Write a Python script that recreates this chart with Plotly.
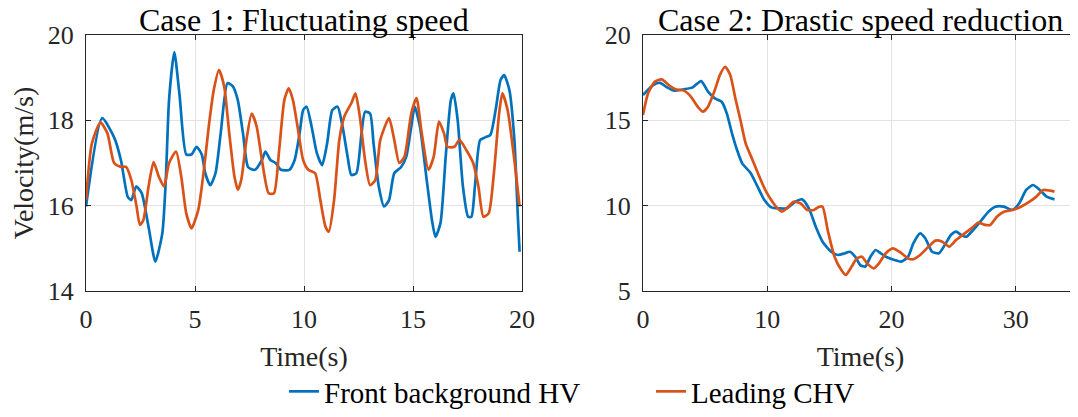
import plotly.graph_objects as go

# Case 1: fluctuating speed
t1_hv = [0, 0.74, 1.29, 1.6, 1.92, 2.08, 2.3, 2.55, 2.87, 3.18, 3.5, 3.66, 3.81, 4.05, 4.29, 4.6,
         4.84, 5.07, 5.31, 5.47, 5.7, 5.94, 6.18, 6.49, 6.73, 6.96, 7.2, 7.44, 7.75, 8.07, 8.23,
         8.46, 8.7, 8.94, 9.33, 9.57, 9.8, 9.96, 10.12, 10.35, 10.59, 10.83, 11.06, 11.3, 11.54,
         11.77, 12.0, 12.17, 12.4, 12.64, 12.8, 13.03, 13.19, 13.43, 13.67, 13.9, 14.14, 14.45,
         14.69, 14.92, 15.08, 15.32, 15.63, 15.87, 16.03, 16.26, 16.5, 16.74, 16.86, 17.05, 17.29,
         17.53, 17.68, 17.84, 18.08, 18.31, 18.55, 18.79, 19.02, 19.18, 19.42, 19.65, 19.81, 19.89]
v1_hv = [15.98, 18.05, 17.6, 17.07, 16.2, 16.13, 16.45, 16.3, 15.5, 14.69, 15.35, 16.6, 18.48,
         19.6, 18.6, 17.2, 17.2, 17.38, 17.2, 16.76, 16.48, 16.76, 17.7, 18.87, 18.8, 18.48, 17.7,
         16.9, 16.84, 17.07, 17.27, 17.07, 17.0, 16.84, 16.84, 17.07, 17.7, 18.24, 18.32, 17.85,
         17.23, 16.95, 17.46, 18.24, 18.32, 17.85, 17.15, 16.72, 16.76, 17.7, 18.2, 18.16, 17.46,
         16.45, 15.98, 16.13, 16.76, 16.9, 17.15, 17.85, 18.32, 17.85, 16.6, 15.66, 15.27, 15.59,
         17.15, 18.48, 18.63, 18.0, 16.45, 15.74, 15.74, 16.45, 17.54, 17.6, 17.66, 18.24, 18.95,
         19.06, 18.71, 17.54, 15.74, 14.92]
t1_chv = [0, 0.27, 0.66, 0.98, 1.29, 1.6, 1.84, 2.08, 2.32, 2.47, 2.63, 2.87, 3.1, 3.34, 3.58,
          3.81, 4.13, 4.37, 4.6, 4.84, 5.15, 5.39, 5.63, 5.86, 6.1, 6.34, 6.57, 6.81, 6.97, 7.12,
          7.36, 7.6, 7.83, 8.07, 8.38, 8.62, 8.86, 9.1, 9.3, 9.49, 9.73, 9.96, 10.2, 10.51, 10.75,
          10.99, 11.14, 11.38, 11.62, 11.85, 12.17, 12.36, 12.56, 12.8, 13.03, 13.27, 13.5, 13.9,
          14.14, 14.37, 14.61, 14.92, 15.16, 15.4, 15.71, 15.95, 16.19, 16.42, 16.58, 16.9, 17.13,
          17.45, 17.76, 18.0, 18.23, 18.47, 18.71, 18.95, 19.1, 19.34, 19.65, 19.89]
v1_chv = [16.13, 17.46, 17.95, 17.7, 17.0, 16.91, 16.91, 16.6, 15.98, 15.55, 15.66, 16.45, 17.02,
          16.68, 16.45, 17.0, 17.27, 16.68, 15.82, 15.47, 15.9, 16.76, 17.85, 18.71, 19.18, 18.79,
          17.7, 16.68, 16.37, 16.6, 17.54, 18.16, 17.85, 17.07, 16.29, 16.29, 17.3, 18.48, 18.75,
          18.48, 17.77, 17.07, 16.84, 16.76, 16.13, 15.5, 15.39, 16.13, 17.54, 18.09, 18.4, 18.63,
          18.09, 17.07, 16.48, 16.6, 17.54, 18.05, 17.54, 17.0, 17.15, 18.16, 18.52, 17.7, 16.84,
          17.15, 17.97, 17.7, 17.38, 17.38, 17.54, 17.3, 17.0, 16.45, 15.74, 15.82, 16.76, 18.16,
          18.63, 18.24, 17.07, 15.98]

# Case 2: drastic speed reduction
t2_hv = [0, 0.83, 1.38, 1.93, 2.48, 3.3, 4.0, 4.68, 5.23, 5.78, 6.33, 6.74, 7.16, 7.57, 7.98,
         8.67, 9.22, 9.77, 10.32, 11.0, 11.56, 12.25, 12.8, 13.35, 13.9, 14.45, 15.14, 15.69,
         16.24, 16.65, 17.07, 17.48, 17.89, 18.3, 18.72, 19.13, 19.54, 20.23, 20.78, 21.33, 21.75,
         22.3, 22.71, 23.26, 23.81, 24.36, 24.77, 25.19, 25.6, 26.01, 26.56, 27.25, 27.8, 28.35,
         29.04, 29.72, 30.27, 30.83, 31.38, 31.93, 32.48, 33.11]
v2_hv = [16.48, 17.07, 17.2, 16.93, 16.74, 16.82, 16.93, 17.3, 16.68, 16.29, 16.09, 15.41, 14.24,
         13.26, 12.48, 11.9, 11.11, 10.33, 9.9, 9.84, 9.84, 10.23, 10.37, 9.84, 8.77, 7.89, 7.3,
         7.11, 7.21, 7.3, 7.01, 6.52, 6.43, 7.01, 7.4, 7.21, 7.01, 6.82, 6.72, 7.01, 7.79, 8.38,
         8.09, 7.3, 7.21, 7.79, 8.28, 8.48, 8.28, 8.18, 8.57, 9.16, 9.65, 9.94, 9.94, 9.75, 10.14,
         10.92, 11.21, 10.92, 10.53, 10.37]
t2_chv = [0, 0.41, 0.96, 1.51, 2.06, 2.61, 3.3, 3.85, 4.4, 4.82, 5.23, 5.78, 6.19, 6.61, 7.02,
          7.43, 7.84, 8.26, 8.81, 9.36, 9.91, 10.6, 11.15, 11.56, 12.11, 12.66, 13.21, 13.76,
          14.17, 14.45, 14.86, 15.41, 15.96, 16.32, 16.79, 17.2, 17.62, 18.03, 18.58, 18.99,
          19.54, 20.1, 20.64, 21.33, 21.75, 22.3, 22.98, 23.53, 24.08, 24.63, 25.19, 25.88, 26.42,
          26.97, 27.52, 27.94, 28.49, 29.04, 29.72, 30.41, 31.1, 31.65, 32.2, 32.75, 33.11]
v2_chv = [15.31, 16.58, 17.27, 17.4, 17.07, 16.82, 16.74, 16.39, 15.8, 15.51, 15.8, 16.78, 17.66,
          18.14, 17.66, 16.29, 15.02, 13.65, 12.68, 11.7, 10.82, 10.04, 9.65, 9.84, 10.23, 10.14,
          9.75, 9.75, 9.94, 9.94, 8.57, 7.01, 6.23, 5.94, 6.43, 6.91, 7.01, 6.62, 6.33, 6.62, 7.21,
          7.5, 7.3, 6.91, 6.86, 7.11, 7.6, 7.95, 7.89, 7.6, 7.99, 8.38, 8.67, 9.0, 8.87, 8.87, 9.36,
          9.65, 9.75, 9.94, 10.23, 10.53, 10.92, 10.88, 10.82]

BLUE = '#0072BD'
ORANGE = '#D95319'
FONT = 'Liberation Serif, Times New Roman, serif'
AXIS_COLOR = '#262626'

fig = go.Figure()

line_kw = dict(width=2.7, shape='spline', smoothing=0.6)
fig.add_trace(go.Scatter(x=t1_hv, y=v1_hv, mode='lines', name='Front background HV',
                         line=dict(color=BLUE, **line_kw), xaxis='x', yaxis='y'))
fig.add_trace(go.Scatter(x=t1_chv, y=v1_chv, mode='lines', name='Leading CHV',
                         line=dict(color=ORANGE, **line_kw), xaxis='x', yaxis='y'))
fig.add_trace(go.Scatter(x=t2_hv, y=v2_hv, mode='lines', showlegend=False,
                         line=dict(color=BLUE, **line_kw), xaxis='x2', yaxis='y2'))
fig.add_trace(go.Scatter(x=t2_chv, y=v2_chv, mode='lines', showlegend=False,
                         line=dict(color=ORANGE, **line_kw), xaxis='x2', yaxis='y2'))

axis_common = dict(
    showline=True, linecolor=AXIS_COLOR, linewidth=1.3, mirror='ticks',
    ticks='inside', ticklen=5, tickcolor=AXIS_COLOR, automargin=False,
    showgrid=True, gridcolor='#e3e3e3', gridwidth=1, zeroline=False,
    tickfont=dict(family=FONT, size=26, color=AXIS_COLOR),
)
# the page body keeps an 8px margin, so the figure is 8px smaller and shifted
OFF = 8
W, H = 1078 - OFF, 417 - OFF
ydom = [1 - (291 - OFF) / H, 1 - (35 - OFF) / H]
title_font = dict(size=28, family=FONT, color=AXIS_COLOR)

fig.update_layout(
    width=W, height=H,
    margin=dict(l=0, r=0, t=0, b=0),
    paper_bgcolor='white', plot_bgcolor='white',
    font=dict(family=FONT, color='black'),
    xaxis=dict(domain=[(86 - OFF) / W, (522 - OFF) / W], range=[0, 20], tickvals=[0, 5, 10, 15, 20],
               ticklabelstandoff=5,
               title=dict(text='Time(s)', font=title_font, standoff=13),
               anchor='y', **axis_common),
    yaxis=dict(domain=ydom, range=[14, 20], tickvals=[14, 16, 18, 20],
               ticklabelstandoff=6,
               title=dict(text='Velocity(m/s)', font=title_font, standoff=13),
               anchor='x', **axis_common),
    xaxis2=dict(domain=[(643 - OFF) / W, 1.0], range=[0, 35], tickvals=[0, 10, 20, 30],
                ticklabelstandoff=5,
                title=dict(text='Time(s)', font=title_font, standoff=13),
                anchor='y2', **axis_common),
    yaxis2=dict(domain=ydom, range=[5, 20], tickvals=[5, 10, 15, 20],
                ticklabelstandoff=6,
                anchor='x2', **axis_common),
    legend=dict(orientation='h', x=(284 - OFF) / W, xanchor='left',
                y=0, yanchor='bottom',
                font=dict(family=FONT, size=29, color='black'), bgcolor='rgba(0,0,0,0)',
                entrywidth=322, entrywidthmode='pixels', tracegroupgap=0),
    annotations=[
        dict(text='Case 1: Fluctuating speed', x=((86 + 522) / 2 - OFF) / W, y=1 + 8 / H,
             xref='paper', yref='paper', xanchor='center', yanchor='top', showarrow=False,
             font=dict(family=FONT, size=32, color='black')),
        dict(text='Case 2: Drastic speed reduction', x=((643 + 1077) / 2 - OFF) / W, y=1 + 8 / H,
             xref='paper', yref='paper', xanchor='center', yanchor='top', showarrow=False,
             font=dict(family=FONT, size=32, color='black')),
    ],
)

fig.write_html('out.html')
